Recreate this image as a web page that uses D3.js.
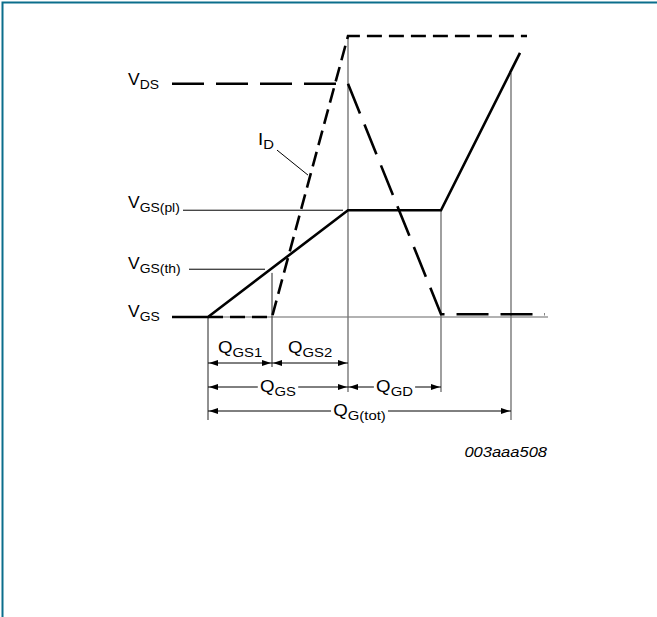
<!DOCTYPE html>
<html>
<head>
<meta charset="utf-8">
<script src="https://cdn.jsdelivr.net/npm/d3@7"></script>
<style>
  html, body { margin: 0; padding: 0; background: #fff; }
  svg { display: block; }
  text { font-family: "Liberation Sans", Arial, Helvetica, sans-serif; fill: #000; }
</style>
</head>
<body>
<svg id="chart" width="657" height="617"></svg>
<script>
// gate charge (arbitrary units) where each phase ends: start, QGS1, QGS, QGD, QG(tot)
var chargeMarks = [0, 3.2, 7.0, 11.65, 15.15];
// top end of each vertical guide (voltage units)
var guideTops = [0, 1.57, 10, 3.8, 8.68];
// bottom end of each vertical guide (pixels below the plot)
var guideBottoms = [420, 367, 392, 392, 420];

// VGS curve
var vgsQ = [-1.8, 0, 7.0, 11.65, 15.6];
var vgsV = [0, 0, 3.8, 3.8, 9.4];

// ID curve
var idQ = [0, 3.2, 7.0, 15.95];
var idV = [0, 0, 10, 10];

// VDS curve
var vdsQ = [-1.8, 7.0, 11.65, 16.85];
var vdsV = [8.3, 8.3, 0.1, 0.1];

// level labels on the left
var levelNames = ["V", "V", "V", "V"];
var levelSubs = ["DS", "GS(pl)", "GS(th)", "GS"];
var levelValues = [8.3, 3.8, 1.7, 0];
var levelShift = [1, -2, 0, 0];
// leader lines for the two middle levels [from q, to q]
var leaderFrom = [null, -1.25, -0.95, null];
var leaderTo = [null, 6.75, 2.85, null];

// charge brackets: from mark, to mark, label subscript, row
var bracketFrom = [0, 1, 0, 2, 0];
var bracketTo = [1, 2, 2, 3, 4];
var bracketSubs = ["GS1", "GS2", "GS", "GD", "G(tot)"];
var bracketRows = [0, 0, 1, 1, 2];
var rowY = [363, 387, 411];

var svg = d3.select("#chart");

// scales: charge across, voltage up
var x = d3.scaleLinear().domain([0, 15.15]).range([208, 511]);
var y = d3.scaleLinear().domain([0, 10]).range([317, 36]);

// frame
svg.append("path")
    .attr("d", "M2.5,617 L2.5,2.5 L657,2.5")
    .attr("fill", "none")
    .attr("stroke", "#0b6e8c")
    .attr("stroke-width", 2);

var line = d3.line()
    .x(function(d) { return x(d[0]); })
    .y(function(d) { return y(d[1]); });

// baseline
svg.append("line")
    .attr("x1", x(0)).attr("x2", x(17))
    .attr("y1", y(0)).attr("y2", y(0))
    .attr("stroke", "#666").attr("stroke-width", 1.2);

// vertical guides
svg.selectAll(".guide")
    .data(chargeMarks)
    .enter().append("line")
    .attr("class", "guide")
    .attr("x1", function(d) { return x(d); })
    .attr("x2", function(d) { return x(d); })
    .attr("y1", function(d, i) { return y(guideTops[i]); })
    .attr("y2", function(d, i) { return guideBottoms[i]; })
    .attr("stroke", function(d, i) { return i < 2 ? "#222" : "#777"; })
    .attr("stroke-width", function(d, i) { return i < 2 ? 1 : 1.4; });

// curves
svg.append("path")
    .datum(d3.zip(idQ, idV))
    .attr("d", line)
    .attr("fill", "none")
    .attr("stroke", "#000")
    .attr("stroke-width", 2.6)
    .attr("stroke-dasharray", "15,7");

svg.append("path")
    .datum(d3.zip(vdsQ, vdsV))
    .attr("d", line)
    .attr("fill", "none")
    .attr("stroke", "#000")
    .attr("stroke-width", 2.6)
    .attr("stroke-dasharray", "32,12");

svg.append("path")
    .datum(d3.zip(vgsQ, vgsV))
    .attr("d", line)
    .attr("fill", "none")
    .attr("stroke", "#000")
    .attr("stroke-width", 2.6);

// label with subscript, slightly widened like the original lettering
function label(parent, px, py, main, sub, anchor, stretch) {
    var g = parent.append("g")
        .attr("transform", "translate(" + px + "," + py + ") scale(" + stretch + ",1)");
    var t = g.append("text")
        .attr("text-anchor", anchor)
        .style("font-size", "17px");
    t.append("tspan").text(main);
    t.append("tspan").attr("dy", 4).style("font-size", "13.5px").text(sub);
    return g;
}

// level labels and leaders
levelValues.forEach(function(v, i) {
    label(svg, 128, y(v) + levelShift[i], levelNames[i], levelSubs[i], "start", 1.03);
    if (leaderFrom[i] !== null) {
        svg.append("line")
            .attr("x1", x(leaderFrom[i])).attr("x2", x(leaderTo[i]))
            .attr("y1", y(v)).attr("y2", y(v))
            .attr("stroke", "#000").attr("stroke-width", 1);
    }
});

// ID label and leader
label(svg, x(2.5), y(6.12), "I", "D", "start", 1.1);
svg.append("line")
    .attr("x1", x(3.45)).attr("y1", y(5.94))
    .attr("x2", x(5.0)).attr("y2", y(5.05))
    .attr("stroke", "#000").attr("stroke-width", 1);

// brackets
function arrowHead(x0, y0, dir) {
    return [[x0, y0], [x0 + dir * 9, y0 - 3], [x0 + dir * 9, y0 + 3]];
}

bracketSubs.forEach(function(s, i) {
    var x1 = x(chargeMarks[bracketFrom[i]]),
        x2 = x(chargeMarks[bracketTo[i]]),
        ry = rowY[bracketRows[i]];

    svg.append("line")
        .attr("x1", x1).attr("x2", x2)
        .attr("y1", ry).attr("y2", ry)
        .attr("stroke", "#000").attr("stroke-width", 1);

    [arrowHead(x1 + 1, ry, 1), arrowHead(x2 - 1, ry, -1)].forEach(function(p) {
        svg.append("polygon")
            .attr("points", p.map(function(d) { return d.join(","); }).join(" "))
            .attr("fill", "#000");
    });

    var cx = (x1 + x2) / 2;
    if (bracketRows[i] === 0) {
        label(svg, cx, ry - 10, "Q", s, "middle", 1.1);
    } else {
        var g = label(svg, cx, ry + 5, "Q", s, "middle", 1.1);
        var bb = g.select("text").node().getBBox();
        g.insert("rect", "text")
            .attr("x", bb.x - 2).attr("y", bb.y + 2)
            .attr("width", bb.width + 4).attr("height", bb.height - 4)
            .attr("fill", "#fff");
    }
});

// drawing code
svg.append("text")
    .attr("transform", "translate(547,457) scale(1.18,1)")
    .attr("text-anchor", "end")
    .style("font-size", "14px")
    .style("font-style", "italic")
    .text("003aaa508");
</script>
</body>
</html>
